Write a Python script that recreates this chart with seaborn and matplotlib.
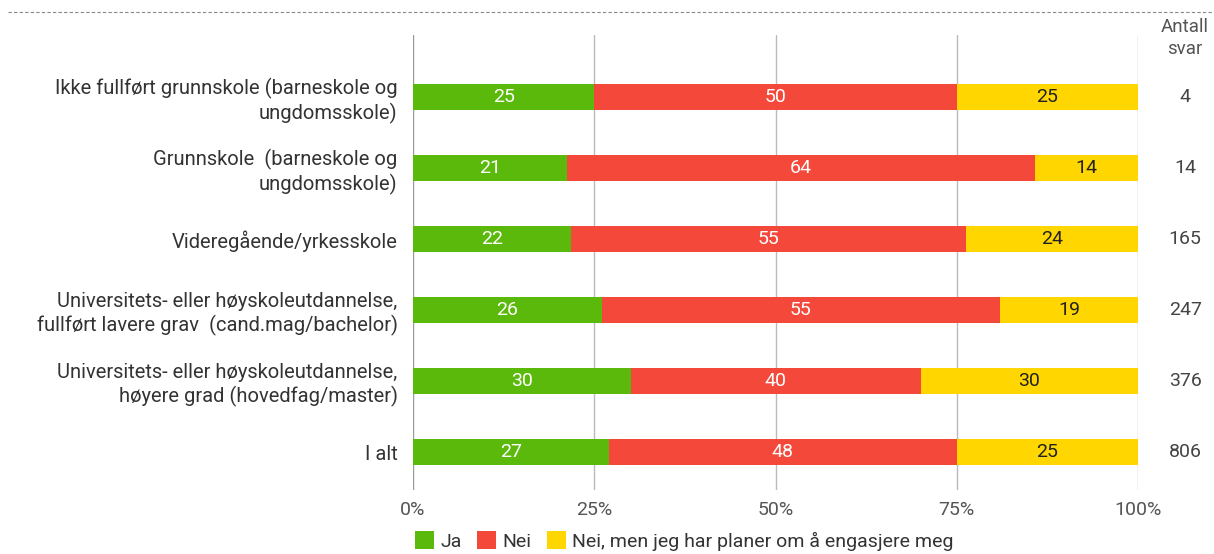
import matplotlib
matplotlib.use("Agg")
import matplotlib.pyplot as plt
import seaborn as sns
import pandas as pd
import numpy as np
from matplotlib.patches import Patch

categories = [
    "Ikke fullført grunnskole (barneskole og\nungdomsskole)",
    "Grunnskole  (barneskole og\nungdomsskole)",
    "Videregående/yrkesskole",
    "Universitets- eller høyskoleutdannelse,\nfullført lavere grav  (cand.mag/bachelor)",
    "Universitets- eller høyskoleutdannelse,\nhøyere grad (hovedfag/master)",
    "I alt",
]
ja = [25, 21, 22, 26, 30, 27]
nei = [50, 64, 55, 55, 40, 48]
planer = [25, 14, 24, 19, 30, 25]
antall = [4, 14, 165, 247, 376, 806]
series_names = ["Ja", "Nei", "Nei, men jeg har planer om å engasjere meg"]
tick_labels = ["0%", "25%", "50%", "75%", "100%"]

colors = ["#5BB90B", "#F4493A", "#FFD600"]

sns.set_theme(style="white")
plt.rcParams["font.family"] = ["Roboto", "DejaVu Sans"]

fig = plt.figure(figsize=(12.14, 5.54), dpi=100)
ax = fig.add_axes([413 / 1214, 1 - 490 / 554, 725 / 1214, (490 - 35) / 554])

df = pd.DataFrame({"cat": categories, "Ja": ja, "Nei": nei, "Planer": planer})
tot = df["Ja"] + df["Nei"] + df["Planer"]
df["c1"] = df["Ja"] / tot * 100
df["c2"] = (df["Ja"] + df["Nei"]) / tot * 100
df["c3"] = 100.0

for col, colr in zip(["c3", "c2", "c1"], colors[::-1]):
    sns.barplot(data=df, x=col, y="cat", order=categories, color=colr,
                saturation=1, width=0.37, orient="h", ax=ax, linewidth=0, zorder=3)

ax.set_xlim(0, 100)
ax.set_ylim(5.535, -0.873)
ax.set_xticks([0, 25, 50, 75, 100])
ax.set_xticklabels(tick_labels, fontsize=14, color="#555555")
for x in [0, 25, 50, 75, 100]:
    ax.axvline(x, color="#bbbbbb" if x else "#999999", lw=1, zorder=1)
ax.set_xlabel("")
ax.set_ylabel("")
ax.tick_params(axis="y", length=0, pad=11, labelsize=14.5, labelcolor="#333333")
ax.tick_params(axis="x", length=0, pad=8)
for s in ax.spines.values():
    s.set_visible(False)

for i in range(len(categories)):
    segs = [(0, df["c1"][i], ja[i], "white"),
            (df["c1"][i], df["c2"][i], nei[i], "white"),
            (df["c2"][i], 100, planer[i], "#222222")]
    for a, b, v, tc in segs:
        ax.text((a + b) / 2, i, str(v), ha="center", va="center",
                fontsize=14, color=tc, zorder=5)
    ax.text(1.065, i, str(antall[i]), transform=ax.get_yaxis_transform(),
            ha="center", va="center", fontsize=14, color="#444444")

fig.text(1185 / 1214, 1 - 38 / 554, "Antall\nsvar", ha="center", va="center",
         fontsize=13.5, color="#555555", linespacing=1.3)

fig.add_artist(plt.Line2D([8 / 1214, 1], [1 - 12 / 554, 1 - 12 / 554],
                          transform=fig.transFigure, color="#888888",
                          lw=0.8, ls=(0, (3, 2))))

handles = [Patch(facecolor=c, edgecolor="none") for c in colors]
fig.legend(handles, series_names, loc="center left",
           bbox_to_anchor=(407 / 1214, 1 - 541 / 554), ncol=3, frameon=False,
           fontsize=14, handlelength=1.0, handleheight=1.0, handletextpad=0.3,
           columnspacing=0.8, labelcolor="#333333", borderaxespad=0)

fig.savefig("out.png", dpi=100)
